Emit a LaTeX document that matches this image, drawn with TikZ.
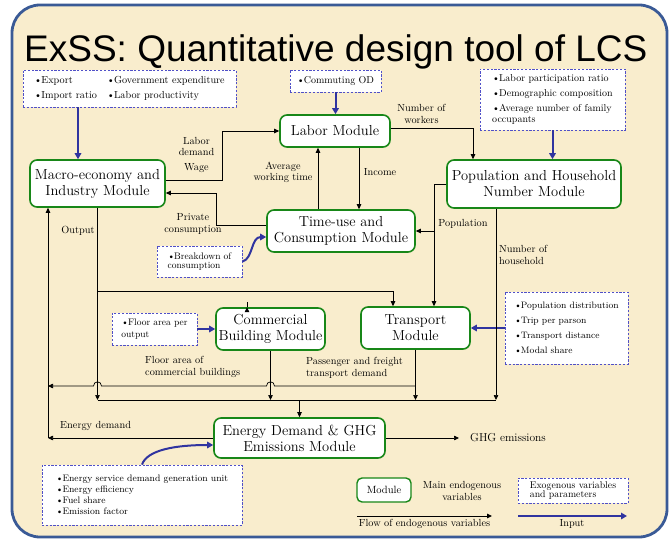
\documentclass[tikz,border=0pt]{standalone}
\usepackage{fontspec}
\newfontfamily\titlefont{Liberation Sans}
\usetikzlibrary{arrows.meta}
\definecolor{frameblue}{RGB}{58,90,150}
\definecolor{parch}{RGB}{249,237,205}
\definecolor{modgreen}{RGB}{24,135,24}
\definecolor{exoblue}{RGB}{80,80,200}
\definecolor{inblue}{RGB}{48,52,160}
\newcommand\mybul{\textbullet\kern-0.8pt}
\begin{document}
\begin{tikzpicture}[x=1pt,y=-1pt,
  module/.style={draw=modgreen,line width=1.6pt,rounded corners=7pt,fill=white,align=center,inner sep=0pt,font=\fontsize{14.5}{16}\selectfont},
  exo/.style={draw=exoblue,line width=0.8pt,dash pattern=on 2.2pt off 1.6pt,fill=white,align=left,inner sep=0pt,font=\fontsize{9.3}{15}\selectfont},
  flow/.style={draw=black,line width=0.7pt,-{Triangle[length=5pt,width=4.5pt]}},
  plainline/.style={draw=black,line width=0.7pt},
  inarrow/.style={draw=inblue,line width=2pt,-{Triangle[length=6pt,width=6.5pt]}},
  lbl/.style={inner sep=0pt,align=center,font=\fontsize{10.3}{11.5}\selectfont},
]
\useasboundingbox (0,0) rectangle (669,540);
\fill[white] (0,0) rectangle (669,540);
\draw[frameblue,line width=2.8pt,fill=parch,rounded corners=28pt] (12,5) rectangle (667,537);

% title
\node[anchor=base west,inner sep=0pt,font=\titlefont\fontsize{37}{42}\selectfont] (title) at (24,62) {ExSS: Quantitative design tool of LCS};

% modules
\node[module,minimum width=135pt,minimum height=47pt] (macro) at (97.5,183.5) {Macro-economy and\\Industry Module};
\node[module,minimum width=110pt,minimum height=32pt] (labor) at (335,131) {Labor Module};
\node[module,minimum width=174pt,minimum height=48pt] (pop) at (534,184) {Population and Household\\Number Module};
\node[module,minimum width=148pt,minimum height=42pt] (time) at (341,231) {Time-use and\\Consumption Module};
\node[module,minimum width=109pt,minimum height=42pt] (comm) at (270.5,329) {Commercial\\Building Module};
\node[module,minimum width=109pt,minimum height=42pt] (trans) at (415.5,328) {Transport\\Module};
\node[module,minimum width=171pt,minimum height=40pt] (energy) at (299.5,438) {Energy Demand \& GHG\\Emissions Module};
\node[module,line width=1.4pt,rounded corners=5pt,minimum width=54pt,minimum height=24pt,font=\fontsize{10.5}{12}\selectfont] (legmod) at (384,490) {Module};

% exogenous boxes
\node[exo,minimum width=213pt,minimum height=37pt,font=\fontsize{10.2}{15}\selectfont] (exo1) at (129.5,88.5)
  {\begin{tabular}{@{}l@{\hspace{10pt}}l@{}}\mybul Export & \mybul Government expenditure\\ \mybul Import ratio & \mybul Labor productivity\end{tabular}};
\node[exo,minimum width=91pt,minimum height=22pt,font=\fontsize{10}{12}\selectfont] (exo2) at (335.5,81) {\mybul Commuting OD};
\node[exo,minimum width=145pt,minimum height=61pt,font=\fontsize{10}{15}\selectfont] (exo3) at (552.5,99.5)
  {\mybul Labor participation ratio\\\mybul Demographic composition\\\mybul Average number of family\\[-4pt]occupants};
\node[exo,minimum width=85pt,minimum height=31pt,font=\fontsize{9.5}{9}\selectfont] (exo4) at (199.5,261.5) {\mybul Breakdown of\\consumption};
\node[exo,minimum width=85pt,minimum height=32pt,font=\fontsize{9.5}{12}\selectfont] (exo5) at (154.5,329) {\mybul Floor area per\\output};
\node[exo,minimum width=123pt,minimum height=72pt] (exo6) at (566.5,328)
  {\mybul Population distribution\\\mybul Trip per parson\\\mybul Transport distance\\\mybul Modal share};
\node[exo,minimum width=200pt,minimum height=60pt,font=\fontsize{9.4}{11}\selectfont] (exo7) at (142,495)
  {\mybul Energy service demand generation unit\\\mybul Energy efficiency\\\mybul Fuel share\\\mybul Emission factor};
\node[exo,minimum width=110pt,minimum height=25pt,font=\fontsize{9.8}{8.5}\selectfont] (exo8) at (573,490.5) {Exogenous variables\\and parameters};

% input arrows
\draw[inarrow] (exo1.south -| 78,0) -- (macro.north -| 78,0);
\draw[inarrow] (exo2.south) -- (labor.north -| exo2.south);
\draw[inarrow] (exo3.south) -- (pop.north -| exo3.south);
\draw[inarrow] (exo4.east) .. controls (253,259) and (251,237) .. (time.west |- 0,237);
\draw[inarrow] (exo5.east) -- (comm.west);
\draw[inarrow] (exo6.west) -- (trans.east);
\draw[inarrow] (exo7.north -| 142,0) .. controls (147,450) and (175,445) .. (energy.west |- 0,445);

% coordinates
\coordinate (busR) at (496,400);
\coordinate (popj) at (434,231);
\coordinate (edc) at (48,438);

% flows
\draw[flow] (macro.east |- 0,180) -| (222,131) -- (labor.west);
\draw[flow] (time.west |- 0,225) -| (216,193) -- (macro.east |- 0,193);
\draw[flow] (time.north -| 318,0) -- (labor.south -| 318,0);
\draw[flow] (labor.south -| 359,0) -- (time.north -| 359,0);
\draw[flow] (labor.east |- 0,128) -| (pop.north -| 473,0);
\draw[flow] (pop.west) -| (trans.north -| popj);
\draw[flow] (popj) -- (time.east |- popj);
\draw[flow] (pop.south -| busR) -- (busR);
\draw[flow] (macro.south) -- (macro.south |- busR);
\draw[flow] (macro.south |- 0,291) -| (trans.north -| 393,0);
\draw[flow] (comm.north -| 247,0 |- 0,291) -- (comm.north -| 247,0);
\draw[flow] (comm.south) -- (comm.south |- busR);
\draw[flow] (trans.south) -- (trans.south |- busR);
\draw[plainline] (macro.south |- busR) -- (busR);
\draw[flow] (energy.north |- busR) -- (energy.north);
\draw[flow] (trans.south |- 0,386) -- (274.5,386) .. controls (274.5,380.5) and (266.5,380.5) .. (266.5,386)
  -- (101.5,386) .. controls (101.5,380.5) and (93.5,380.5) .. (93.5,386) -- (edc |- 0,386);
\draw[flow] (energy.west) -- (edc);
\draw[flow] (edc) -- (macro.south -| edc);
\node[lbl,anchor=west,font=\fontsize{11.5}{13}\selectfont] (ghg) at (470,438) {GHG emissions};
\draw[flow,shorten >=11pt] (energy.east) -- (ghg.west);

% labels
\node[lbl] (l1) at (196.5,146.5) {Labor\\demand};
\node[lbl] (l2) at (196.5,168) {Wage};
\node[lbl] (l3) at (193,224) {Private\\consumption};
\node[lbl] (l4) at (283,172.5) {Average\\working time};
\node[lbl] (l5) at (380,172) {Income};
\node[lbl] (l6) at (421.5,114) {Number of\\workers};
\node[lbl] (l7) at (463,224) {Population};
\node[lbl,anchor=west,align=left] (l8) at (499,255) {Number of\\household};
\node[lbl] (l9) at (78,231) {Output};
\node[lbl,anchor=west,align=left] (l10) at (145,367) {Floor area of\\commercial buildings};
\node[lbl,anchor=west,align=left] (l11) at (306,368) {Passenger and freight\\transport demand};
\node[lbl,anchor=west] (l12) at (60,426) {Energy demand};

% legend
\node[lbl] (l13) at (462,491) {Main endogenous\\variables};
\coordinate (fa) at (357,516);
\coordinate (fb) at (492,516);
\draw[flow,line width=1pt] (fa) -- (fb);
\node[lbl] (l14) at (424.5,524) {Flow of endogenous variables};
\coordinate (ia) at (518,516);
\coordinate (ib) at (627,516);
\draw[inarrow] (ia) -- (ib);
\node[lbl] (l15) at (572,524) {Input};
\end{tikzpicture}
\end{document}
